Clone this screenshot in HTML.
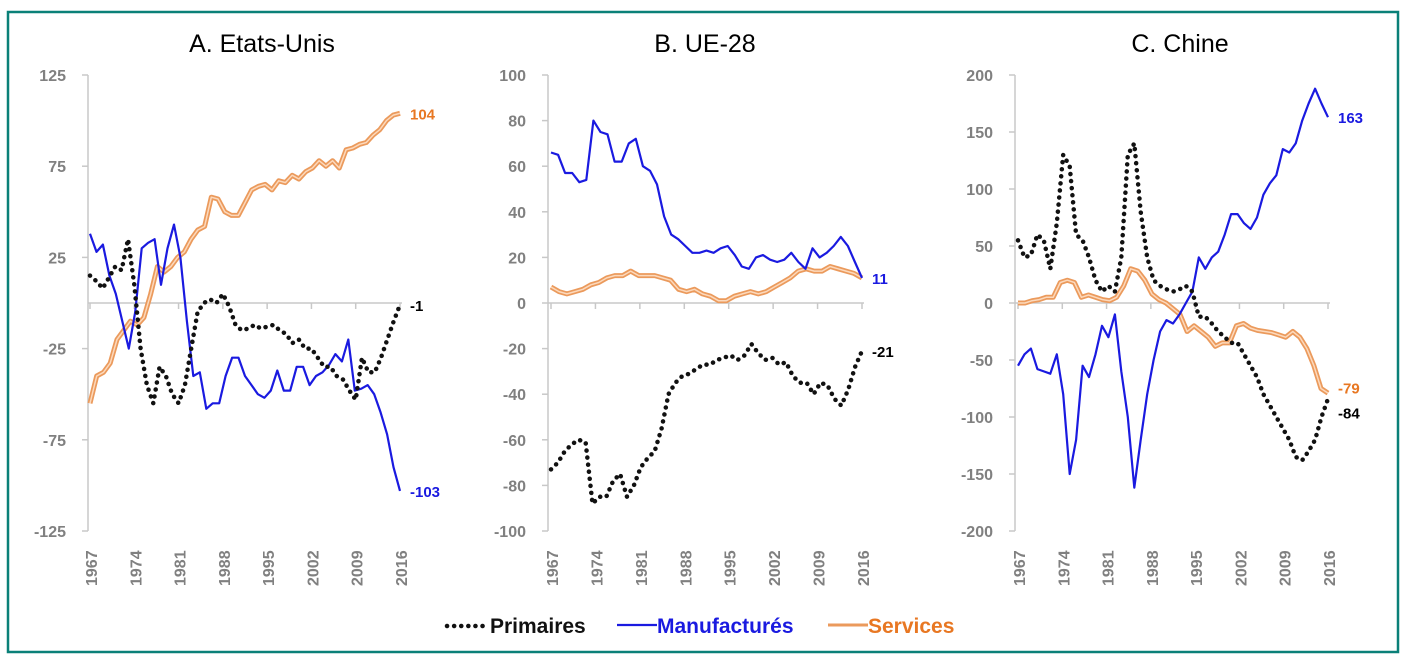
<!DOCTYPE html>
<html><head><meta charset="utf-8"><style>
html,body{margin:0;padding:0;background:#fff;}
svg{display:block;}
</style></head><body>
<svg id="s" width="1406" height="662" xmlns="http://www.w3.org/2000/svg" font-family="Liberation Sans, sans-serif"></svg>
<script>
const S=document.getElementById('s');let h='';
h+='<rect x="8" y="12" width="1390" height="640" fill="none" stroke="#0a8078" stroke-width="2.5"/>';
const panels=[
{title:'A. Etats-Unis',tx:262,ax:88,x0:90,x1:400,max:125,ticks:[125,75,25,-25,-75,-125],
man:[38,28,32,15,5,-10,-25,-5,30,33,35,10,30,43,25,-10,-40,-38,-58,-55,-55,-40,-30,-30,-40,-45,-50,-52,-48,-37,-48,-48,-35,-35,-45,-40,-38,-34,-28,-32,-20,-48,-47,-45,-50,-60,-72,-90,-103],
pri:[15,12,8,14,20,18,35,10,-25,-45,-55,-35,-40,-50,-55,-45,-25,-5,0,2,0,5,-2,-12,-15,-14,-12,-14,-13,-12,-15,-17,-22,-20,-25,-25,-30,-35,-35,-40,-42,-48,-53,-30,-38,-38,-30,-20,-10,-1],
ser:[-55,-40,-38,-33,-20,-15,-10,-12,-8,5,20,17,20,25,28,35,40,42,58,57,50,48,48,55,62,64,65,62,67,66,70,68,72,74,78,75,78,74,84,85,87,88,92,95,100,103,104],
lab:[['104',104,'#e87722'],['-1',-1,'#000'],['-103',-103,'#1a1ae0']]},
{title:'B. UE-28',tx:705,ax:548,x0:551,x1:862,max:100,ticks:[100,80,60,40,20,0,-20,-40,-60,-80,-100],
man:[66,65,57,57,53,54,80,75,74,62,62,70,72,60,58,52,38,30,28,25,22,22,23,22,24,25,21,16,15,20,21,19,18,19,22,18,15,24,20,22,25,29,25,18,11],
pri:[-73,-70,-65,-62,-60,-61,-88,-85,-85,-78,-75,-85,-80,-72,-68,-65,-55,-40,-35,-32,-31,-29,-27,-27,-25,-24,-23,-25,-23,-18,-22,-25,-24,-27,-26,-32,-35,-35,-40,-35,-36,-42,-45,-38,-28,-21],
ser:[7,5,4,5,6,8,9,11,12,12,14,12,12,12,11,10,6,5,6,4,3,1,1,3,4,5,4,5,7,9,11,14,15,14,14,16,15,14,13,11],
lab:[['11',11,'#1a1ae0'],['-21',-21,'#000']]},
{title:'C. Chine',tx:1180,ax:1015,x0:1018,x1:1328,max:200,ticks:[200,150,100,50,0,-50,-100,-150,-200],
man:[-55,-45,-40,-58,-60,-62,-45,-80,-150,-120,-55,-65,-45,-20,-30,-10,-60,-100,-162,-120,-80,-50,-25,-15,-18,-10,0,10,40,30,40,45,60,78,78,70,65,75,95,105,112,135,132,140,160,175,188,175,163],
pri:[55,40,42,60,55,30,70,130,120,60,55,40,20,10,15,10,40,130,140,80,40,20,15,12,10,12,15,10,-12,-12,-18,-25,-30,-35,-35,-45,-55,-65,-80,-90,-100,-110,-120,-135,-138,-130,-120,-100,-84],
ser:[0,0,2,3,5,5,18,20,18,5,7,5,3,2,5,15,30,28,20,8,3,0,-5,-10,-25,-20,-25,-30,-38,-35,-35,-20,-18,-22,-24,-25,-26,-28,-30,-25,-30,-40,-55,-75,-79],
lab:[['163',163,'#1a1ae0'],['-79',-74,'#e87722'],['-84',-96,'#000']]}];
const yT=75,yB=531;
panels.forEach(p=>{
 const Y=v=>yT+(p.max-v)/(2*p.max)*(yB-yT);
 const pts=a=>a.map((v,i)=>(p.x0+i*(p.x1-p.x0)/(a.length-1)).toFixed(1)+','+Y(v).toFixed(1)).join(' ');
 h+=`<text x="${p.tx}" y="52" font-size="25" text-anchor="middle">${p.title}</text>`;
 h+=`<line x1="${p.ax}" y1="${yT}" x2="${p.ax}" y2="${yB}" stroke="#c8c8c8" stroke-width="1.5"/>`;
 p.ticks.forEach(t=>{h+=`<line x1="${p.ax-6}" y1="${Y(t)}" x2="${p.ax}" y2="${Y(t)}" stroke="#c8c8c8" stroke-width="1.5"/>`;
  h+=`<text x="${p.ax-22}" y="${Y(t)+6}" font-size="16" font-weight="bold" fill="#808080" text-anchor="end">${t}</text>`;});
 const z=Y(0);
 h+=`<line x1="${p.ax}" y1="${z}" x2="${p.x1+2}" y2="${z}" stroke="#c8c8c8" stroke-width="1.5"/>`;
 for(let k=0;k<8;k++){const x=p.x0+k*7*(p.x1-p.x0)/49;
  h+=`<line x1="${x}" y1="${z}" x2="${x}" y2="${z+6}" stroke="#c8c8c8" stroke-width="1.5"/>`;
  h+=`<text transform="translate(${x+7},${yB+55}) rotate(-90)" font-size="16" font-weight="bold" fill="#808080">${1967+7*k}</text>`;}
 h+=`<polyline points="${pts(p.ser)}" fill="none" stroke="#eb9a5c" stroke-width="5" stroke-linejoin="round"/>`;
 h+=`<polyline points="${pts(p.ser)}" fill="none" stroke="#fcd9bc" stroke-width="1.5" stroke-linejoin="round"/>`;
 h+=`<polyline points="${pts(p.man)}" fill="none" stroke="#1a1ae0" stroke-width="2.2" stroke-linejoin="round"/>`;
 h+=`<polyline points="${pts(p.pri)}" fill="none" stroke="#111" stroke-width="4.5" stroke-dasharray="0.1 7" stroke-linecap="round"/>`;
 p.lab.forEach(l=>{h+=`<text x="${p.x1+10}" y="${Y(l[1])+6}" font-size="15" font-weight="bold" fill="${l[2]}">${l[0]}</text>`;});
});
const LF='font-family="Liberation Sans Narrow, Liberation Sans, sans-serif" font-size="21" font-weight="bold"';
h+=`<line x1="447" y1="626" x2="486" y2="626" stroke="#111" stroke-width="4.5" stroke-dasharray="0.1 7" stroke-linecap="round"/>`;
h+=`<text x="490" y="633" ${LF} fill="#111">Primaires</text>`;
h+=`<line x1="617" y1="625" x2="657" y2="625" stroke="#1a1ae0" stroke-width="2.2"/>`;
h+=`<text x="657" y="633" ${LF} fill="#1a1ae0">Manufacturés</text>`;
h+=`<line x1="828" y1="625" x2="868" y2="625" stroke="#eb9a5c" stroke-width="3"/>`;
h+=`<text x="868" y="633" ${LF} fill="#e87722">Services</text>`;
S.innerHTML=h;
</script>
</body></html>
